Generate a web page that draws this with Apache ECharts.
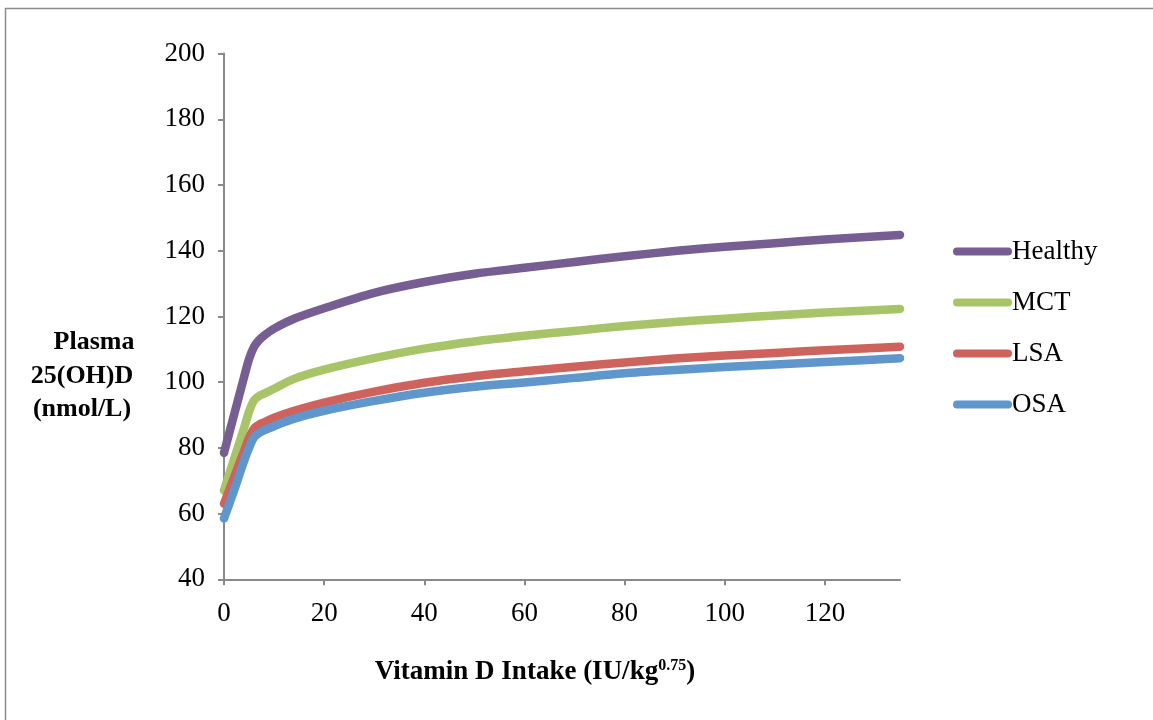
<!DOCTYPE html>
<html>
<head>
<meta charset="utf-8">
<script src="https://cdn.jsdelivr.net/npm/echarts@6/dist/echarts.min.js"></script>
<style>html,body{margin:0;padding:0;background:#fff;}#c{width:1153px;height:720px;}</style>
</head>
<body>
<div id="c"></div>
<script>
const xIntake = [0, 2, 4, 5, 6, 7, 8, 10, 14, 20, 30, 40, 50, 60, 70, 80, 90, 100, 110, 120, 135];
const healthy = [78.5, 90, 101.5, 107, 110.8, 112.8, 114.2, 116.3, 119.3, 122.5, 127.2, 130.5, 133, 134.8, 136.6, 138.3, 139.9, 141.2, 142.3, 143.4, 144.8];
const mct     = [67, 76.5, 86, 91, 94.5, 95.8, 96.5, 98, 101, 103.8, 107.3, 110.2, 112.4, 114.1, 115.6, 117.1, 118.3, 119.3, 120.3, 121.2, 122.3];
const lsa     = [63, 71, 79, 83, 85.9, 87.1, 87.8, 89.2, 91.3, 93.8, 97.1, 99.8, 101.8, 103.3, 104.7, 106, 107.2, 108.1, 108.9, 109.7, 110.8];
const osa     = [58.5, 67, 76, 80, 83.2, 84.5, 85.3, 86.6, 88.9, 91.3, 94.3, 96.8, 98.6, 99.9, 101.3, 102.7, 103.7, 104.6, 105.4, 106.1, 107.3];
const seriesNames = ['Healthy', 'MCT', 'LSA', 'OSA'];
const xTicks = [0, 20, 40, 60, 80, 100, 120];
const yTicks = [40, 60, 80, 100, 120, 140, 160, 180, 200];

const colors = ['#765D92', '#A8C468', '#CD635C', '#5F96CB'];
const FONT = 'Liberation Serif';
const all = [healthy, mct, lsa, osa];

const chart = echarts.init(document.getElementById('c'), null, {renderer: 'canvas'});
const legendIcon = 'path://M4,0 L56,0 A4,4 0 0 1 56,8 L4,8 A4,4 0 0 1 4,0 Z';
const yTitleFont = 'bold 26px "Liberation Serif"';

chart.setOption({
  animation: false,
  backgroundColor: '#fff',
  textStyle: {fontFamily: FONT},
  grid: {left: 224, top: 53.6, right: 253, bottom: 140.7, containLabel: false},
  legend: {
    orient: 'vertical', left: 953, top: 238, padding: 0,
    icon: legendIcon, itemWidth: 59, itemHeight: 8, itemGap: 24,
    textStyle: {fontFamily: FONT, fontSize: 27, color: '#000', lineHeight: 26.5, padding: [0, 0, 0, -5]},
    data: seriesNames
  },
  xAxis: {
    type: 'value', min: 0, max: 135,
    splitLine: {show: false},
    axisLine: {lineStyle: {color: '#8a8a8a', width: 2}},
    axisTick: {show: true, length: 6, customValues: xTicks, lineStyle: {color: '#8a8a8a', width: 2}},
    axisLabel: {customValues: xTicks, fontFamily: FONT, fontSize: 27, color: '#000', margin: 21}
  },
  yAxis: {
    type: 'value', min: 40, max: 200, interval: 20,
    splitLine: {show: false},
    axisLine: {show: true, lineStyle: {color: '#8a8a8a', width: 2}},
    axisTick: {show: true, length: 6, lineStyle: {color: '#8a8a8a', width: 2}},
    axisLabel: {fontFamily: FONT, fontSize: 27, color: '#000', margin: 19}
  },
  graphic: [
    {type: 'rect', left: 3, top: 6, shape: {width: 1170, height: 730}, style: {fill: 'none', stroke: '#8c8c8c', lineWidth: 1.5}, silent: true},
    {type: 'text', x: 94, y: 342, style: {text: 'Plasma', align: 'center', verticalAlign: 'middle', font: yTitleFont, fill: '#000'}},
    {type: 'text', x: 82, y: 376, style: {text: '25(OH)D', align: 'center', verticalAlign: 'middle', font: yTitleFont, fill: '#000'}},
    {type: 'text', x: 82, y: 409, style: {text: '(nmol/L)', align: 'center', verticalAlign: 'middle', font: yTitleFont, fill: '#000'}},
    {type: 'text', x: 535, y: 672, style: {
      text: '{b|Vitamin D Intake (IU/kg}{s|0.75}{b|)}', align: 'center', verticalAlign: 'middle',
      rich: {
        b: {fontFamily: FONT, fontSize: 27, fontWeight: 'bold', fill: '#000'},
        s: {fontFamily: FONT, fontSize: 16, fontWeight: 'bold', fill: '#000', padding: [0, 0, 13, 0]}
      }
    }}
  ],
  series: seriesNames.map((n, i) => ({
    name: n, type: 'line', smooth: 0.3, symbol: 'none', showSymbol: false,
    color: colors[i],
    lineStyle: {width: 8.5, color: colors[i], cap: 'round', join: 'round'},
    data: xIntake.map((x, k) => [x, all[i][k]])
  }))
});
</script>
</body>
</html>
